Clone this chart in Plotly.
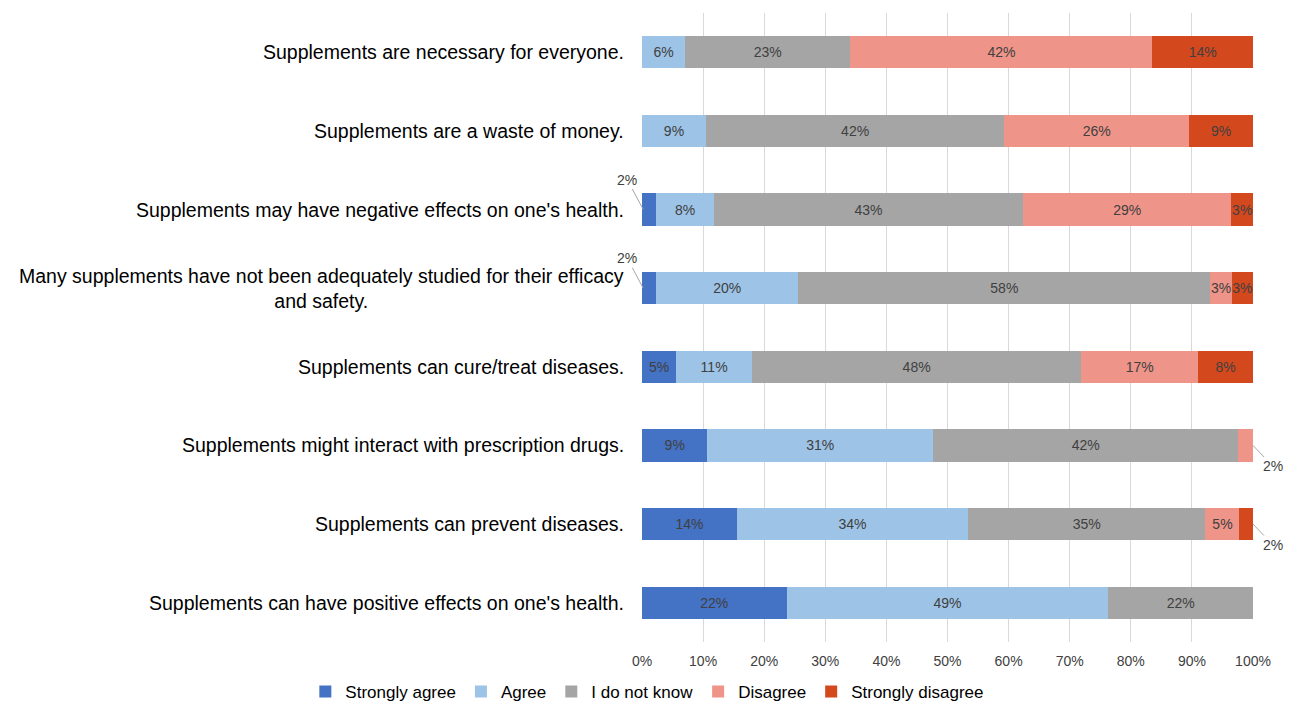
import plotly.graph_objects as go

categories = [
    "Supplements are necessary for everyone.",
    "Supplements are a waste of money.",
    "Supplements may have negative effects on one's health.",
    "Many supplements have not been adequately studied for their efficacy<br>and safety.",
    "Supplements can cure/treat diseases.",
    "Supplements might interact with prescription drugs.",
    "Supplements can prevent diseases.",
    "Supplements can have positive effects on one's health.",
]
series_names = ["Strongly agree", "Agree", "I do not know", "Disagree", "Strongly disagree"]
strongly_agree = [None, None, 2, 2, 5, 9, 14, 22]
agree = [6, 9, 8, 20, 11, 31, 34, 49]
dont_know = [23, 42, 43, 58, 48, 42, 35, 22]
disagree = [42, 26, 29, 3, 17, 2, 5, None]
strongly_disagree = [14, 9, 3, 3, 8, None, 2, None]
colors = ["#4472C4", "#9DC3E6", "#A5A5A5", "#EE9488", "#D4481E"]
x_ticks = list(range(0, 101, 10))

FONT = "Liberation Sans, Arial"
series = [strongly_agree, agree, dont_know, disagree, strongly_disagree]
# small values shown with callouts: (series index, category index, side)
callouts = [(0, 2, "left"), (0, 3, "left"), (3, 5, "right"), (4, 6, "right")]
callout_set = {(s, c) for s, c, _ in callouts}

fig = go.Figure()
for si, (name, vals, col) in enumerate(zip(series_names, series, colors)):
    texts = []
    for ci, v in enumerate(vals):
        if v is None or (si, ci) in callout_set:
            texts.append("")
        else:
            texts.append(f"{v}%")
    fig.add_trace(go.Bar(
        y=categories, x=[0 if v is None else v for v in vals], name=name,
        orientation="h", marker=dict(color=col, line=dict(width=0)),
        text=texts, textposition="inside", insidetextanchor="middle",
        textangle=0, constraintext="none",
        textfont=dict(family=FONT, size=14, color="#404040"),
        hoverinfo="skip",
    ))

# callout annotations, positions derived from normalized data
for si, ci, side in callouts:
    row = [0 if s[ci] is None else s[ci] for s in series]
    total = sum(row)
    start = sum(row[:si]) / total * 100
    end = start + row[si] / total * 100
    if side == "left":
        x = start + 0.2
        ax, ay = -16, -30
    else:
        x = end
        ax, ay = 20, 21
    fig.add_annotation(
        x=x, y=categories[ci], xref="x", yref="y", text=f"{series[si][ci]}%",
        showarrow=True, arrowhead=0, arrowwidth=1, arrowcolor="#A6A6A6",
        ax=ax, ay=ay, standoff=0,
        font=dict(family=FONT, size=14, color="#404040"),
    )

# category labels as annotations (centered multi-line)
for c in categories:
    fig.add_annotation(
        x=0, y=c, xref="paper", yref="y", text=c, showarrow=False,
        xanchor="right", xshift=-16, align="center",
        font=dict(family=FONT, size=19.5, color="#000000"),
    )

fig.update_layout(
    barmode="stack", barnorm="percent", bargap=0.59,
    width=1293, height=703,
    margin=dict(l=642, r=40, t=13, b=61, autoexpand=False),
    plot_bgcolor="white", paper_bgcolor="white",
    font=dict(family=FONT, color="#404040"),
    legend=dict(
        orientation="h", xref="paper", yref="paper",
        x=-0.551, xanchor="left", y=-0.0795, yanchor="middle",
        font=dict(family=FONT, size=17, color="#000000"),
        itemwidth=30, traceorder="normal", tracegroupgap=0,
    ),
    showlegend=True,
)
fig.update_xaxes(
    range=[0, 100], tickvals=x_ticks, ticktext=[f"{t}%" for t in x_ticks],
    showgrid=True, gridcolor="#D9D9D9", gridwidth=1, zeroline=False,
    tickfont=dict(family=FONT, size=14, color="#404040"),
    showline=False, fixedrange=True, ticklen=6, ticks="outside", tickcolor="white",
)
fig.update_yaxes(
    autorange="reversed", showticklabels=False, showgrid=False,
    showline=False, zeroline=False, fixedrange=True,
)
fig.write_html("out.html")
